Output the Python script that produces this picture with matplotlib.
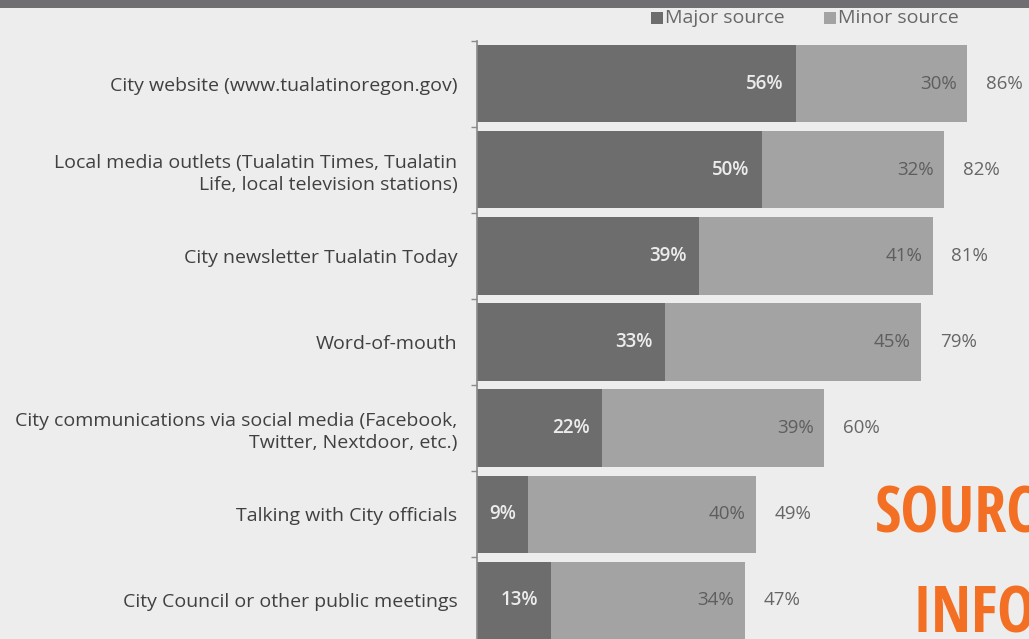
import matplotlib.pyplot as plt
from matplotlib.patches import Rectangle
import numpy as np

categories = [
    'City website (www.tualatinoregon.gov)',
    'Local media outlets (Tualatin Times, Tualatin\nLife, local television stations)',
    'City newsletter Tualatin Today',
    'Word-of-mouth',
    'City communications via social media (Facebook,\nTwitter, Nextdoor, etc.)',
    'Talking with City officials',
    'City Council or other public meetings',
]
major = [56, 50, 39, 33, 22, 9, 13]
minor = [30, 32, 41, 45, 39, 40, 34]
total = [86, 82, 81, 79, 60, 49, 47]

bg = '#ecedec'
c_major = '#6d6d6d'
c_minor = '#a3a3a3'
font = 'Open Sans'

W, H = 1029, 639
fig = plt.figure(figsize=(W / 100, H / 100), dpi=100)
fig.patch.set_facecolor(bg)

# dark strip across the top
fig.add_artist(Rectangle((0, 1 - 8 / H), 1, 8 / H, transform=fig.transFigure,
                         facecolor='#6f6f73', edgecolor='none'))

ax = fig.add_axes([477 / W, (H - 643.5) / H, 545 / W, 603 / H])
ax.set_facecolor(bg)
y = np.arange(len(categories))
ax.barh(y, major, height=0.9, color=c_major)
ax.barh(y, minor, left=major, height=0.9, color=c_minor)
ax.set_xlim(0, 95.7)
ax.set_ylim(len(categories) - 0.5, -0.5)

for s in ['top', 'right', 'bottom']:
    ax.spines[s].set_visible(False)
ax.spines['left'].set_color('#8a8a8a')
ax.spines['left'].set_linewidth(1.2)
ax.set_xticks([])
ax.set_yticks(y)
ax.set_yticklabels(categories, fontsize=14, color='#404040', family=font,
                   linespacing=1.3)
ax.tick_params(axis='y', length=0, pad=14)
ax.set_yticks(np.arange(-0.5, len(categories), 1), minor=True)
ax.tick_params(axis='y', which='minor', length=4, color='#8a8a8a', width=1)

for i in range(len(categories)):
    ax.text(major[i] - 2.2, i, f'{major[i]}%', ha='right', va='center',
            fontsize=13.5, color='#ececec', family=font, fontweight='semibold')
    ax.text(major[i] + minor[i] - 1.8, i, f'{minor[i]}%', ha='right', va='center',
            fontsize=13.5, color='#5e5e5e', family=font)
    ax.text(major[i] + minor[i] + 3.3, i, f'{total[i]}%', ha='left', va='center',
            fontsize=13.5, color='#666666', family=font)

# legend
for x0, lab, col in [(651, 'Major source', c_major), (824, 'Minor source', c_minor)]:
    fig.add_artist(Rectangle((x0 / W, 1 - 24 / H), 12 / W, 12 / H,
                             transform=fig.transFigure, facecolor=col, edgecolor='none'))
    fig.text((x0 + 14) / W, 1 - 18 / H, lab, ha='left', va='center',
             fontsize=14, color='#686868', family=font)

# orange heading running off the right edge
heading = dict(ha='left', va='center', fontsize=46, color='#f36f24',
               fontweight='bold', fontstretch='condensed',
               family=['DejaVu Sans Condensed', 'Noto Sans Condensed',
                       'Open Sans Condensed', 'Roboto Condensed', 'Lato'])
fig.text(875 / W, 1 - 516 / H, 'SOURCES', **heading)
fig.text(912 / W, 1 - 616 / H, 'INFORMATION', **heading)

fig.savefig('out.png', dpi=100, facecolor=bg)
